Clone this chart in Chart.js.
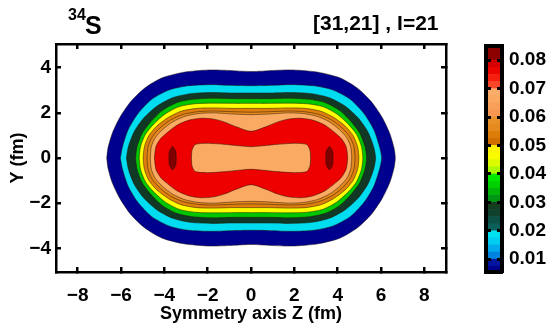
<!DOCTYPE html>
<html lang="en">
<head>
<meta charset="UTF-8">
<title>34S density</title>
<script src="https://cdn.jsdelivr.net/npm/chart.js@4.4.1/dist/chart.umd.min.js"></script>
<style>
  body { margin: 0; background: #fff; }
  #wrap { position: relative; width: 551px; height: 323px; font-family: "Liberation Sans", Arial, sans-serif; font-weight: bold; color: #000; }
  #main { position: absolute; left: 0; top: 0; }
  #cbar { position: absolute; left: 470px; top: 0; }
  .lbl { position: absolute; white-space: nowrap; }
</style>
</head>
<body>
<div id="wrap">
  <canvas id="main" width="470" height="323"></canvas>
  <canvas id="cbar" width="81" height="323"></canvas>
  <span class="lbl" style="left:68px; top:7px; font-size:16px; line-height:16px;">34</span>
  <span class="lbl" style="left:85px; top:13px; font-size:25px; line-height:25px;">S</span>
  <span class="lbl" style="left:313px; top:12px; font-size:21px; line-height:21px;">[31,21] , I=21</span>
</div>

<script>
// axis ticks
const zTicks = [-8, -6, -4, -2, 0, 2, 4, 6, 8];
const yTicks = [-4, -2, 0, 2, 4];
const cbarTicks = [0.01, 0.02, 0.03, 0.04, 0.05, 0.06, 0.07, 0.08];

// contour levels (fm^-3), outermost first
const levels = [0.005, 0.01, 0.02, 0.03, 0.04, 0.05, 0.055, 0.06, 0.07];

// one quarter of each iso-density line [z, y], from the z axis round to the y axis
const iso005 = [[-6.66,0],[-6.6,0.45],[-6.4,1.1],[-6.05,1.8],[-5.55,2.5],[-4.9,3.1],[-4.1,3.55],[-3.1,3.8],[-1.95,3.9],[-1.05,3.88],[0,3.83]];
const iso010 = [[-6.03,0],[-5.93,0.5],[-5.67,1.25],[-5.23,1.95],[-4.58,2.6],[-3.76,3.02],[-2.9,3.2],[-1.83,3.25],[-0.97,3.22],[0,3.2]];
const iso020 = [[-5.75,0],[-5.66,0.5],[-5.4,1.15],[-4.97,1.75],[-4.34,2.3],[-3.62,2.67],[-2.8,2.85],[-1.79,2.9],[-0.97,2.88],[0,2.88]];
const iso030 = [[-5.33,0],[-5.26,0.5],[-5.02,1.1],[-4.63,1.6],[-4.1,2.1],[-3.43,2.45],[-2.7,2.6],[-1.74,2.65],[-0.87,2.63],[0,2.63]];
const iso040 = [[-5.16,0],[-5.1,0.5],[-4.87,1.05],[-4.49,1.5],[-3.96,1.95],[-3.33,2.27],[-2.61,2.4],[-1.74,2.43],[-0.87,2.42],[0,2.42]];
const iso050 = [[-4.98,0],[-4.92,0.5],[-4.71,1.0],[-4.34,1.42],[-3.81,1.8],[-3.23,2.07],[-2.51,2.2],[-1.74,2.22],[-0.87,2.2],[0,2.2]];
const iso055 = [[-4.8,0],[-4.75,0.5],[-4.55,0.95],[-4.2,1.33],[-3.72,1.68],[-3.14,1.93],[-2.46,2.05],[-1.74,2.08],[-0.87,2.05],[0,2.03]];
const iso060 = [[-4.65,0],[-4.6,0.5],[-4.42,0.9],[-4.07,1.27],[-3.62,1.6],[-3.04,1.85],[-2.41,1.97],[-1.74,2.0],[-0.87,1.95],[0,1.92]];
const iso070 = [[-4.46,0],[-4.39,0.5],[-4.18,0.85],[-3.9,1.1],[-3.42,1.45],[-2.85,1.68],[-2.28,1.76],[-1.71,1.72],[-1.24,1.6],[-0.67,1.38],[0,1.18]];
// dip below 0.07 in the centre
const dip070 = [[-2.75,0],[-2.72,0.35],[-2.57,0.6],[-1.98,0.65],[-1.17,0.6],[-0.54,0.54],[0,0.5]];
// the two maxima above 0.08
const peakL = [[-3.62,0.52],[-3.47,0.3],[-3.47,-0.3],[-3.62,-0.52],[-3.77,-0.3],[-3.77,0.3],[-3.62,0.52]];
const peakR = [[3.62,0.52],[3.77,0.3],[3.77,-0.3],[3.62,-0.52],[3.47,-0.3],[3.47,0.3],[3.62,0.52]];

// colour bar steps
const cbarEdges = [0.0055, 0.0075, 0.01, 0.0125, 0.015, 0.0175, 0.02, 0.0225, 0.025, 0.0275, 0.03,
  0.0325, 0.035, 0.0375, 0.04, 0.0425, 0.045, 0.0475, 0.05, 0.0525, 0.055, 0.0575, 0.06,
  0.0625, 0.065, 0.0675, 0.07, 0.0725, 0.075, 0.0775, 0.08, 0.0825, 0.085];

const levelColors = ['rgb(0,0,143)', 'rgb(0,220,240)', 'rgb(16,56,36)', 'rgb(0,198,0)', 'rgb(255,255,0)',
  'rgb(222,126,14)', 'rgb(228,137,30)', 'rgb(250,170,98)', 'rgb(238,0,0)'];
const dipColor = 'rgb(250,170,98)';
const peakColor = 'rgb(128,0,0)';

const cbarColors = [
  'rgb(0,0,140)', 'rgb(0,20,160)',
  'rgb(0,130,225)', 'rgb(0,170,235)', 'rgb(0,205,240)', 'rgb(0,225,240)',
  'rgb(10,95,90)', 'rgb(12,80,70)', 'rgb(15,65,45)', 'rgb(20,60,30)',
  'rgb(0,150,20)', 'rgb(0,180,10)', 'rgb(0,210,0)', 'rgb(0,235,0)',
  'rgb(170,250,0)', 'rgb(220,250,0)', 'rgb(250,250,0)', 'rgb(255,245,0)',
  'rgb(210,110,0)', 'rgb(220,125,10)', 'rgb(228,138,30)', 'rgb(232,145,40)',
  'rgb(246,150,80)', 'rgb(248,160,90)', 'rgb(250,168,98)', 'rgb(250,172,104)',
  'rgb(250,70,40)', 'rgb(245,30,15)', 'rgb(235,5,0)', 'rgb(215,0,0)',
  'rgb(140,0,0)', 'rgb(140,0,0)'
];

// the density is reflection symmetric in z and y: unfold a quarter into a closed line
function unfold(q) {
  const pts = q.map(([z, y]) => ({x: z, y: y}));
  const rev = q.slice().reverse();
  rev.slice(1).forEach(([z, y]) => pts.push({x: -z, y: y}));
  q.slice(1).forEach(([z, y]) => pts.push({x: -z, y: -y}));
  rev.slice(1).forEach(([z, y]) => pts.push({x: z, y: -y}));
  return pts;
}

const shapes = [iso005, iso010, iso020, iso030, iso040, iso050, iso055, iso060, iso070]
  .map((q, i) => ({pts: unfold(q), color: levelColors[i]}));
shapes.push({pts: unfold(dip070), color: dipColor});
shapes.push({pts: peakL.map(([z, y]) => ({x: z, y: y})), color: peakColor});
shapes.push({pts: peakR.map(([z, y]) => ({x: z, y: y})), color: peakColor});

const font = {family: '"Liberation Sans", Arial, sans-serif', weight: 'bold', size: 19};
const minus = v => String(v).replace('-', '\u2212');
const setTicks = list => s => { s.ticks = list.map(v => ({value: v})); };
const frame = {color: '#000', width: 2.5};
const inTicks = {drawOnChartArea: false, tickLength: -5, tickWidth: 2.5, tickColor: '#000', lineWidth: 2.5};

new Chart(document.getElementById('main'), {
  type: 'scatter',
  data: {
    datasets: shapes.map((s, i) => ({
      data: s.pts,
      showLine: true,
      fill: 'shape',
      backgroundColor: s.color,
      borderColor: 'rgba(35,20,10,0.7)',
      borderWidth: 0.7,
      pointRadius: 0,
      tension: 0.25,
      order: shapes.length - i
    }))
  },
  options: {
    responsive: false,
    animation: false,
    events: [],
    layout: {padding: {top: 44, right: 24, left: 0, bottom: 0}},
    plugins: {legend: {display: false}, tooltip: {enabled: false}},
    scales: {
      x: {
        type: 'linear', position: 'bottom', min: -9, max: 9,
        afterBuildTicks: setTicks(zTicks),
        afterFit: s => { s.height = 51; },
        ticks: {font: font, color: '#000', padding: 17, maxRotation: 0, callback: minus},
        grid: inTicks, border: frame,
        title: {display: true, text: 'Symmetry axis Z (fm)', color: '#000',
          font: {family: font.family, weight: 'bold', size: 18}, padding: {top: 0, bottom: -2}}
      },
      x2: {
        type: 'linear', position: 'top', min: -9, max: 9,
        afterBuildTicks: setTicks(zTicks),
        afterFit: s => { s.height = 0; },
        ticks: {display: false},
        grid: inTicks, border: frame
      },
      y: {
        type: 'linear', position: 'left', min: -5.05, max: 5.05,
        afterBuildTicks: setTicks(yTicks),
        afterFit: s => { s.width = 56; },
        ticks: {font: font, color: '#000', padding: 10, callback: minus},
        grid: inTicks, border: frame,
        title: {display: true, text: 'Y (fm)', color: '#000',
          font: {family: font.family, weight: 'bold', size: 18}, padding: {top: 7, bottom: 0}}
      },
      y2: {
        type: 'linear', position: 'right', min: -5.05, max: 5.05,
        afterBuildTicks: setTicks(yTicks),
        afterFit: s => { s.width = 0; },
        ticks: {display: false},
        grid: inTicks, border: frame
      }
    }
  }
});

// colour bar
const cbFrame = {color: '#000', width: 4, z: 2};
new Chart(document.getElementById('cbar'), {
  type: 'bar',
  data: {
    labels: [''],
    datasets: cbarColors.map((c, i) => ({
      data: [[cbarEdges[i], cbarEdges[i + 1]]],
      backgroundColor: c,
      borderWidth: 0,
      barPercentage: 1,
      categoryPercentage: 1,
      grouped: false
    }))
  },
  options: {
    responsive: false,
    animation: false,
    events: [],
    layout: {padding: {top: 46, bottom: 51, left: 0, right: 0}},
    plugins: {legend: {display: false}, tooltip: {enabled: false}},
    scales: {
      x: {
        position: 'bottom', afterFit: s => { s.height = 0; },
        ticks: {display: false}, grid: {display: false, drawTicks: false}, border: cbFrame
      },
      x2: {
        type: 'category', position: 'top', afterFit: s => { s.height = 0; },
        ticks: {display: false}, grid: {display: false, drawTicks: false}, border: cbFrame
      },
      y: {
        position: 'left', min: 0.0055, max: 0.085,
        afterBuildTicks: setTicks(cbarTicks),
        afterFit: s => { s.width = 16; },
        ticks: {display: false},
        grid: {drawTicks: false, color: '#000', lineWidth: 3, z: 1},
        border: {color: '#000', width: 4, z: 2, dash: [3, 6, 5]}
      },
      y2: {
        position: 'right', min: 0.0055, max: 0.085,
        afterBuildTicks: setTicks(cbarTicks),
        afterFit: s => { s.width = 49; },
        ticks: {font: font, color: '#000', padding: 7, callback: v => v.toFixed(2)},
        grid: {display: false, drawTicks: false},
        border: cbFrame
      }
    }
  }
});
</script>
</body>
</html>
